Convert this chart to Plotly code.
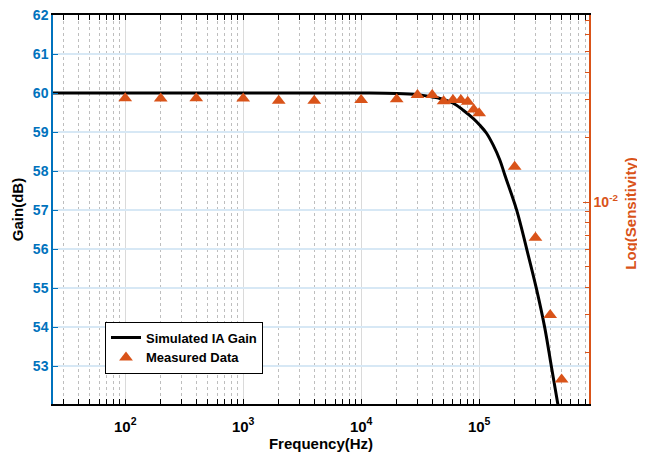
import plotly.graph_objects as go

# --- data ---
sim_freq = [24, 100, 1000, 10000, 20000, 30000, 40000, 46600, 60300, 73300, 88900,
            101000, 115500, 131300, 150000, 165000, 208000, 253000, 305000, 359000,
            409000, 466000]
sim_gain = [60.0, 60.0, 60.0, 60.0, 59.99, 59.96, 59.9, 59.86, 59.74, 59.56, 59.35,
            59.18, 58.97, 58.67, 58.28, 57.90, 57.0, 56.0, 55.0, 54.0, 53.0, 52.0]

meas_freq = [100, 200, 400, 1000, 2000, 4000, 10000, 20000, 30000, 40000, 50000,
             60000, 70000, 80000, 90000, 100000, 200000, 300000, 400000, 500000]
meas_gain = [59.87, 59.86, 59.87, 59.86, 59.8, 59.8, 59.82, 59.84, 59.95, 59.95, 59.79,
             59.82, 59.82, 59.78, 59.58, 59.48, 58.11, 56.29, 54.31, 52.66]

x_major = [100, 1000, 10000, 100000]
x_major_text = ["10<sup>2</sup>", "10<sup>3</sup>", "10<sup>4</sup>", "10<sup>5</sup>"]
y_ticks = [53, 54, 55, 56, 57, 58, 59, 60, 61, 62]

BLUE = "#0072BD"
ORANGE = "#D95319"
FONT = "Liberation Sans"

x_minor = [m * 10 ** e for e in range(1, 6) for m in range(2, 10)]
y2_minor = [m * 10 ** e for e in (-3, -2) for m in range(2, 10)]

fig = go.Figure()
fig.add_trace(go.Scatter(x=sim_freq, y=sim_gain, mode="lines", line=dict(color="black", width=3, shape="spline"),
                         name="Simulated IA Gain"))
fig.add_trace(go.Scatter(x=meas_freq, y=meas_gain, mode="markers",
                         marker=dict(symbol="triangle-up", size=12, color=ORANGE, line=dict(width=0)),
                         name="Measured Data"))
# invisible trace so the right log axis is drawn
fig.add_trace(go.Scatter(x=[1000], y=[0.01], yaxis="y2", mode="markers", marker=dict(opacity=0),
                         showlegend=False, hoverinfo="skip"))

# page body has an 8px margin, so the figure is a bit smaller than the window
fig.update_layout(
    width=637, height=449,
    margin=dict(l=45, r=56, t=7, b=53),
    paper_bgcolor="white", plot_bgcolor="white",
    font=dict(family=FONT, size=14, color="black"),
    showlegend=True,
    legend=dict(x=0.097, y=0.212, xanchor="left", yanchor="top", bgcolor="white",
                bordercolor="black", borderwidth=1, font=dict(size=13, weight="bold", family=FONT),
                tracegroupgap=0),
    xaxis=dict(type="log", range=[1.388, 5.931], tickmode="array", tickvals=x_major, ticktext=x_major_text,
               ticks="inside", ticklen=5, tickcolor="black", showline=True, linecolor="black", linewidth=1.5,
               mirror="allticks", showgrid=True, gridcolor="rgb(218,218,218)", gridwidth=1,
               tickfont=dict(size=15, weight="bold", family=FONT), automargin=False, ticklabelstandoff=8,
               minor=dict(tickvals=x_minor, ticks="inside", ticklen=3, tickcolor="black", showgrid=True,
                          gridcolor="rgb(190,190,190)", griddash="dot", gridwidth=1),
               title=dict(text="Frequency(Hz)", font=dict(size=15, weight="bold", family=FONT), standoff=2),
               zeroline=False),
    yaxis=dict(range=[52.03, 62.001], tickmode="array", tickvals=y_ticks, ticks="inside", ticklen=5,
               tickcolor=BLUE, showline=True, linecolor=BLUE, linewidth=1.5, automargin=False,
               ticklabeloverflow="allow",
               showgrid=True, gridcolor="rgb(215,232,245)", gridwidth=1.5,
               tickfont=dict(size=14, color=BLUE, weight="bold", family=FONT),
               title=dict(text="Gain(dB)", font=dict(size=15, weight="bold", family=FONT), standoff=6),
               zeroline=False),
    yaxis2=dict(type="log", overlaying="y", side="right", range=[-2.9395, -1.130], tickmode="array",
                tickvals=[0.01], ticktext=["10<sup>-2</sup>"], ticks="inside", ticklen=6, tickcolor=ORANGE,
                showline=True, linecolor=ORANGE, linewidth=1.5, showgrid=False, zeroline=False,
                automargin=False,
                tickfont=dict(size=14, color=ORANGE, weight="bold", family=FONT),
                minor=dict(tickvals=y2_minor, ticks="inside", ticklen=4, tickcolor=ORANGE, showgrid=False)),
)

fig.add_annotation(text="Log(Sensitivity)", xref="paper", yref="paper", x=1.077, y=0.49,
                   xanchor="center", yanchor="middle", textangle=-90, showarrow=False,
                   font=dict(size=15, color=ORANGE, weight="bold", family=FONT))

fig.write_html("out.html")
